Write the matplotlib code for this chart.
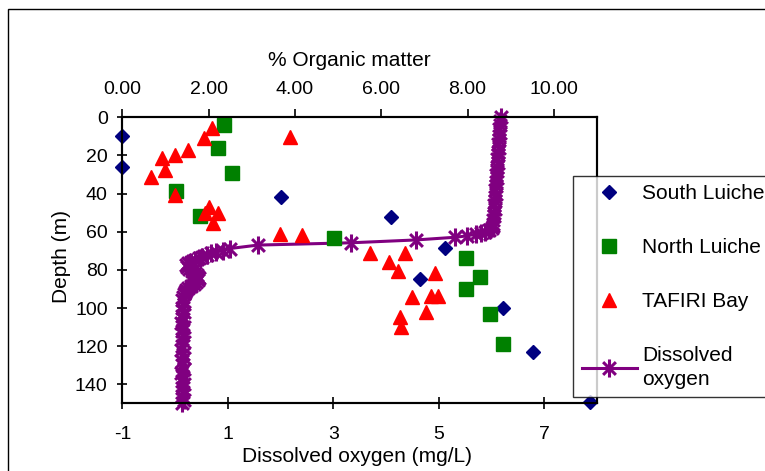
import matplotlib.pyplot as plt
from matplotlib.patches import Rectangle
from matplotlib.path import Path

plt.rcParams["font.family"] = ["Liberation Sans", "DejaVu Sans"]
plt.rcParams["axes.unicode_minus"] = False

# % organic matter in sediment cores (top axis) vs depth (m)
south_om = [0.00, 0.00, 3.67, 6.22, 7.48, 6.90, 8.83, 9.52, 10.84]
south_depth = [10, 26, 41.6, 52.1, 68.7, 85.0, 100.2, 122.9, 149.4]

north_om = [2.36, 2.21, 2.54, 1.24, 1.80, 4.90, 7.96, 8.30, 7.96, 8.52, 8.83]
north_depth = [4.0, 15.9, 29.1, 38.5, 51.6, 63.2, 73.6, 83.9, 90.0, 103.1, 118.9]

tafiri_om = [2.07, 1.89, 3.89, 1.52, 1.22, 0.91, 0.99, 0.66, 1.22, 2.02, 2.21,
             1.92, 2.10, 3.65, 4.16, 5.73, 6.54, 6.18, 6.39, 7.24, 6.71, 7.15,
             7.31, 7.03, 6.43, 6.45]
tafiri_depth = [5.8, 11.0, 10.5, 17.1, 19.8, 21.2, 27.6, 31.1, 40.7, 46.9, 50.3,
                50.3, 55.3, 61.4, 61.9, 71.0, 71.0, 75.7, 80.4, 81.8, 94.4, 93.7,
                93.7, 102.3, 104.6, 110.1]

# Dissolved oxygen profile (bottom axis)
do_depth = [0, 2, 4, 6, 8, 10, 12, 14, 16, 18, 20, 22, 24, 26, 28, 30, 32, 34,
            36, 38, 40, 42, 44, 46, 48, 50, 52, 54, 56, 57, 58, 59, 60, 60.6,
            61.2, 62.2, 62.9, 64.3, 65.8, 67.0, 68.8, 70.0, 70.6, 71.4, 72.2,
            73.0, 73.9, 74.8, 75.7, 76.6, 77.5, 78.5, 79.5, 80.5, 81.5, 82.5,
            83.5, 84.5, 85.5, 86.5, 87.5, 88.5, 89.5, 90.5, 91.5, 92.5, 94, 96,
            98, 100, 102, 104, 106, 108, 110, 112, 114, 116, 118, 120, 122, 124,
            126, 128, 130, 132, 134, 136, 138, 140, 142, 144, 146, 148, 150]
do_value = [6.18, 6.16, 6.17, 6.15, 6.16, 6.14, 6.15, 6.13, 6.14, 6.12, 6.13,
            6.11, 6.12, 6.10, 6.11, 6.09, 6.10, 6.08, 6.09, 6.07, 6.08, 6.06,
            6.07, 6.05, 6.06, 6.05, 6.04, 6.03, 6.03, 6.02, 6.00, 5.95, 5.88,
            5.80, 5.70, 5.53, 5.31, 4.57, 3.33, 1.57, 1.04, 0.90, 0.78, 0.68,
            0.60, 0.52, 0.45, 0.38, 0.30, 0.24, 0.21, 0.22, 0.27, 0.32, 0.37,
            0.41, 0.44, 0.45, 0.43, 0.40, 0.35, 0.30, 0.25, 0.21, 0.18, 0.16,
            0.15, 0.13, 0.16, 0.14, 0.17, 0.13, 0.15, 0.12, 0.16, 0.14, 0.15,
            0.13, 0.17, 0.14, 0.12, 0.15, 0.16, 0.13, 0.14, 0.16, 0.12, 0.15,
            0.14, 0.17, 0.13, 0.15, 0.14, 0.16, 0.13]

purple = "#800080"

# Excel style star marker: vertical bar plus an X
star = Path(
    [(0, -1), (0, 1), (-0.707, -0.707), (0.707, 0.707), (-0.707, 0.707), (0.707, -0.707)],
    [Path.MOVETO, Path.LINETO] * 3,
)

fig = plt.figure(figsize=(7.65, 4.71), dpi=100)
ax = fig.add_axes([0.1599, 0.1435, 0.6205, 0.6075])
ax2 = ax.twiny()

(do_line,) = ax.plot(do_value, do_depth, color=purple, lw=2.2, marker=star, ms=13,
                     mew=2.2, mec=purple, mfc="none", clip_on=False,
                     label="Dissolved\noxygen")

(s_pts,) = ax2.plot(south_om, south_depth, ls="none", marker="D", ms=7,
                    color="#000080", clip_on=False, label="South Luiche")
(n_pts,) = ax2.plot(north_om, north_depth, ls="none", marker="s", ms=10,
                    color="#008000", clip_on=False, label="North Luiche")
(t_pts,) = ax2.plot(tafiri_om, tafiri_depth, ls="none", marker="^", ms=10,
                    color="#FF0000", clip_on=False, label="TAFIRI Bay")

ax.set_xlim(-1, 8)
ax2.set_xlim(0, 11)
ax.set_ylim(150, 0)

ax.set_xticks([-1, 1, 3, 5, 7])
ax.set_yticks(range(0, 141, 20))
ax2.set_xticks(range(0, 11, 2))
ax2.set_xticklabels([f"{v:.2f}" for v in range(0, 11, 2)])

for a in (ax, ax2):
    for sp in a.spines.values():
        sp.set_linewidth(1.5)
        sp.set_color("black")

ax.tick_params(axis="x", direction="inout", length=8, width=1.2, pad=12, labelsize=14)
ax.tick_params(axis="y", direction="inout", length=7, width=1.2, pad=7, labelsize=14)
ax2.tick_params(axis="x", direction="out", length=6, width=1.2, pad=8, labelsize=14)

ax.set_xlabel("Dissolved oxygen (mg/L)", fontsize=15)
ax.xaxis.set_label_coords(0.494, -0.185)
ax.xaxis.label.set_va("center")
ax2.set_xlabel("% Organic matter", fontsize=15)
ax2.xaxis.set_label_coords(0.4776, 1.198)
ax2.xaxis.label.set_va("center")
ax.set_ylabel("Depth (m)", fontsize=15)
ax.yaxis.set_label_coords(-0.1277, 0.513)
ax.yaxis.label.set_va("center")

leg = fig.legend([s_pts, n_pts, t_pts, do_line],
                 ["South Luiche", "North Luiche", "TAFIRI Bay", "Dissolved\noxygen"],
                 loc="upper left", bbox_to_anchor=(573.3 / 765, 1 - 176 / 471),
                 bbox_transform=fig.transFigure, fontsize=15, frameon=True,
                 fancybox=False, edgecolor="black", borderaxespad=0,
                 borderpad=0.4, labelspacing=1.68, handlelength=2.65,
                 handletextpad=0.25)
leg.get_frame().set_linewidth(1.0)
for t in leg.get_texts():
    t.set_linespacing(1.3)

# outer chart-area border (runs off the right and bottom edges)
fig.patches.append(Rectangle((8 / 765, -0.1), 1.0, 1 - 9 / 471 + 0.1, fill=False,
                             transform=fig.transFigure, lw=1.0, ec="black"))

fig.savefig("out.png", dpi=100)
